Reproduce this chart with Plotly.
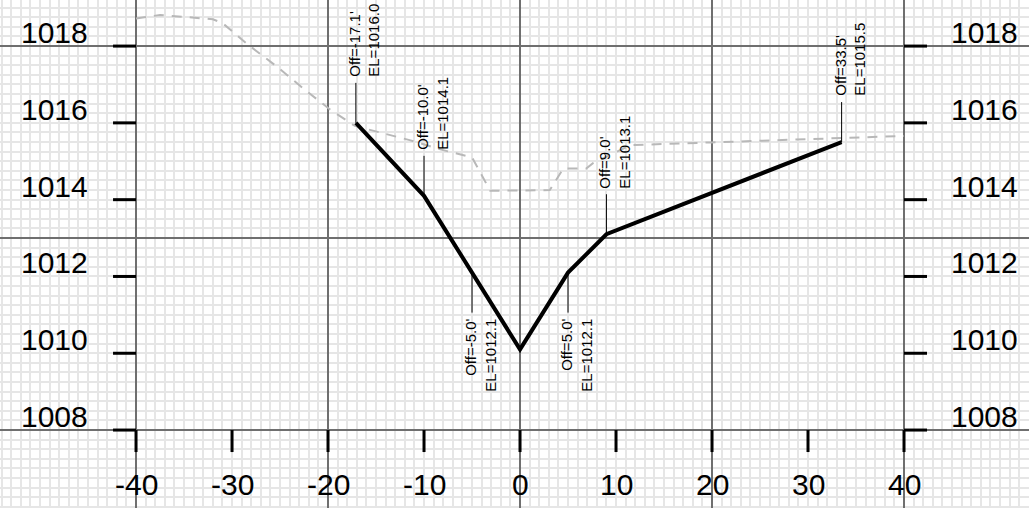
import plotly.graph_objects as go

# proposed section (offset ft, elevation ft)
design_off = [-17.1, -10.0, -5.0, 0.0, 5.0, 9.0, 33.5]
design_el = [1016.0, 1014.1, 1012.1, 1010.1, 1012.1, 1013.1, 1015.5]
label_side = ["up", "up", "down", None, "down", "up", "up"]

# existing ground
ground_off = [-40, -37.5, -32, -31, -28.5, -25.3, -22.6, -19.8, -17.2, -11.5,
              -8.0, -5.0, -3.1, 3.1, 4.5, 6.9, 7.6, 11.5, 19.8, 33.3, 40]
ground_el = [1018.72, 1018.81, 1018.70, 1018.6, 1018.07, 1017.46, 1016.9, 1016.35,
             1015.92, 1015.55, 1015.29, 1015.1, 1014.23, 1014.25, 1014.81, 1014.81,
             1014.95, 1015.42, 1015.49, 1015.6, 1015.66]

x_ticks = [-40, -30, -20, -10, 0, 10, 20, 30, 40]
y_ticks = [1008, 1010, 1012, 1014, 1016, 1018]

X_RANGE = [-54.17, 53.02]
Y_RANGE = [1005.97, 1019.2]
FONT = "Arial, Liberation Sans, sans-serif"
MAJOR = "#6f6f6f"
MINOR = "#e6e6e6"

fig = go.Figure()

fig.add_trace(go.Scatter(
    x=ground_off, y=ground_el, mode="lines",
    line=dict(color="#b8b8b8", width=2, dash="10px,8px"),
    hoverinfo="skip",
))
fig.add_trace(go.Scatter(
    x=design_off, y=design_el, mode="lines",
    line=dict(color="black", width=4),
    hovertemplate="Off=%{x}'<br>EL=%{y}<extra></extra>",
))

shapes = []
annotations = []

# station labels with leaders
for off, el, side in zip(design_off, design_el, label_side):
    if side is None:
        continue
    sign = 1 if side == "up" else -1
    shapes.append(dict(
        type="line", xref="x", yref="y", ysizemode="pixel", yanchor=el,
        x0=off, x1=off, y0=0, y1=40 * sign,
        line=dict(color="black", width=1),
    ))
    annotations.append(dict(
        x=off, y=el, xref="x", yref="y",
        text=f"Off={off:.1f}'<br>EL={el:.1f}",
        textangle=-90, showarrow=False,
        xanchor="left", yanchor="bottom" if side == "up" else "top",
        align="left" if side == "up" else "right",
        xshift=-12, yshift=44 * sign,
        font=dict(family=FONT, size=15, color="black"),
    ))

# axis ticks and labels drawn at the -40 / 40 / 1008 lines
for yv in y_ticks:
    for base, dx, anchor in ((x_ticks[0], -1, "right"), (x_ticks[-1], 1, "left")):
        shapes.append(dict(
            type="line", xref="x", yref="y", xsizemode="pixel", xanchor=base,
            x0=0, x1=23 * dx, y0=yv, y1=yv,
            line=dict(color="black", width=3),
        ))
        annotations.append(dict(
            x=base, y=yv, xref="x", yref="y", text=str(yv), showarrow=False,
            xanchor=anchor, yanchor="bottom",
            xshift=-46 if dx < 0 else 45, yshift=-5,
            font=dict(family=FONT, size=30, color="black"),
        ))

for xv in x_ticks:
    shapes.append(dict(
        type="line", xref="x", yref="y", ysizemode="pixel", yanchor=y_ticks[0],
        x0=xv, x1=xv, y0=0, y1=-22,
        line=dict(color="black", width=3),
    ))
    annotations.append(dict(
        x=xv, y=y_ticks[0], xref="x", yref="y", text=str(xv), showarrow=False,
        xanchor="center", yanchor="top", yshift=-36,
        font=dict(family=FONT, size=30, color="black"),
    ))

fig.update_layout(
    width=1029, height=508,
    margin=dict(l=0, r=0, t=0, b=0, pad=0),
    paper_bgcolor="white", plot_bgcolor="white",
    showlegend=False,
    shapes=shapes, annotations=annotations,
    xaxis=dict(
        range=X_RANGE, showticklabels=False, ticks="", zeroline=False,
        tick0=0, dtick=20, showgrid=True, gridcolor=MAJOR, gridwidth=1.5,
        minor=dict(tick0=0, dtick=1, showgrid=True, gridcolor=MINOR, gridwidth=1.5),
        fixedrange=True,
    ),
    yaxis=dict(
        range=Y_RANGE, showticklabels=False, ticks="", zeroline=False,
        tick0=1008, dtick=5, showgrid=True, gridcolor=MAJOR, gridwidth=1.5,
        minor=dict(tick0=1008, dtick=0.25, showgrid=True, gridcolor=MINOR, gridwidth=1.5),
        fixedrange=True,
    ),
)

fig.write_html(
    "out.html",
    config={"displayModeBar": False},
    post_script="document.body.style.margin='0';document.body.style.overflow='hidden';",
)
